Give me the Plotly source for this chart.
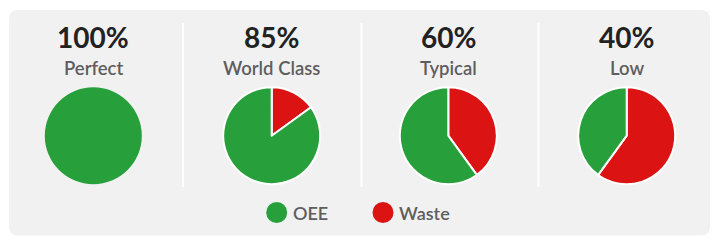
import plotly.graph_objects as go

# Data
categories = ["Perfect", "World Class", "Typical", "Low"]
oee_values = [100, 85, 60, 40]
waste_values = [0, 15, 40, 60]
series_names = ["OEE", "Waste"]
series_colors = ["#27A03B", "#DB1313"]

W, H = 720, 246

def px(x):
    return x / W

def py(y):
    return 1 - y / H

fig = go.Figure()

centers_x = [93.3, 271.7, 448.3, 626.7]
cy, r = 135.7, 48.5

for i, cat in enumerate(categories):
    cx = centers_x[i]
    fig.add_trace(go.Pie(
        labels=[series_names[1], series_names[0]],
        values=[waste_values[i], oee_values[i]],
        marker=dict(colors=[series_colors[1], series_colors[0]],
                    line=dict(color="white", width=[2 if waste_values[i] else 0, 2 if waste_values[i] else 0])),
        sort=False, direction="clockwise", rotation=0,
        textinfo="none", hoverinfo="label+percent",
        showlegend=False,
        domain=dict(x=[px(cx - r), px(cx + r)], y=[py(cy + r), py(cy - r)]),
    ))
    fig.add_annotation(x=px(cx), y=py(56), xref="paper", yref="paper",
                       text=f"<b>{oee_values[i]}%</b>", showarrow=False,
                       xanchor="center", yanchor="bottom",
                       font=dict(family="Lato", size=28, color="#222222"))
    fig.add_annotation(x=px(cx), y=py(67.5), xref="paper", yref="paper",
                       text=cat, showarrow=False,
                       xanchor="center", yanchor="middle",
                       font=dict(family="Lato", size=18.5, color="#5E5E5E", weight=600))

shapes = []
# panel background with rounded corners
x0, y0, x1, y1, rr = 9, 10, 710, 235.5, 9
path = (f"M {px(x0+rr)} {py(y0)} L {px(x1-rr)} {py(y0)} "
        f"Q {px(x1)} {py(y0)} {px(x1)} {py(y0+rr)} "
        f"L {px(x1)} {py(y1-rr)} Q {px(x1)} {py(y1)} {px(x1-rr)} {py(y1)} "
        f"L {px(x0+rr)} {py(y1)} Q {px(x0)} {py(y1)} {px(x0)} {py(y1-rr)} "
        f"L {px(x0)} {py(y0+rr)} Q {px(x0)} {py(y0)} {px(x0+rr)} {py(y0)} Z")
shapes.append(dict(type="path", path=path, xref="paper", yref="paper",
                   fillcolor="#F1F1F1", line=dict(width=0), layer="below"))
for dx in [183, 361.5, 538.5]:
    shapes.append(dict(type="line", xref="paper", yref="paper",
                       x0=px(dx), x1=px(dx), y0=py(23), y1=py(187),
                       line=dict(color="white", width=2), layer="below"))

# legend
legend_x = [276.7, 383]
ly, lr = 212.5, 10.5
for j, name in enumerate(series_names):
    lx = legend_x[j]
    shapes.append(dict(type="circle", xref="paper", yref="paper",
                       x0=px(lx - lr), x1=px(lx + lr), y0=py(ly + lr), y1=py(ly - lr),
                       fillcolor=series_colors[j], line=dict(width=0)))
    fig.add_annotation(x=px(lx + 14), y=py(ly), xref="paper", yref="paper",
                       text=name, showarrow=False, xanchor="left", yanchor="middle",
                       font=dict(family="Lato", size=18, color="#5E5E5E", weight=600))

fig.update_layout(
    width=W, height=H, margin=dict(l=0, r=0, t=0, b=0),
    paper_bgcolor="white", plot_bgcolor="white",
    shapes=shapes, showlegend=False,
)

fig.write_html("out.html")
